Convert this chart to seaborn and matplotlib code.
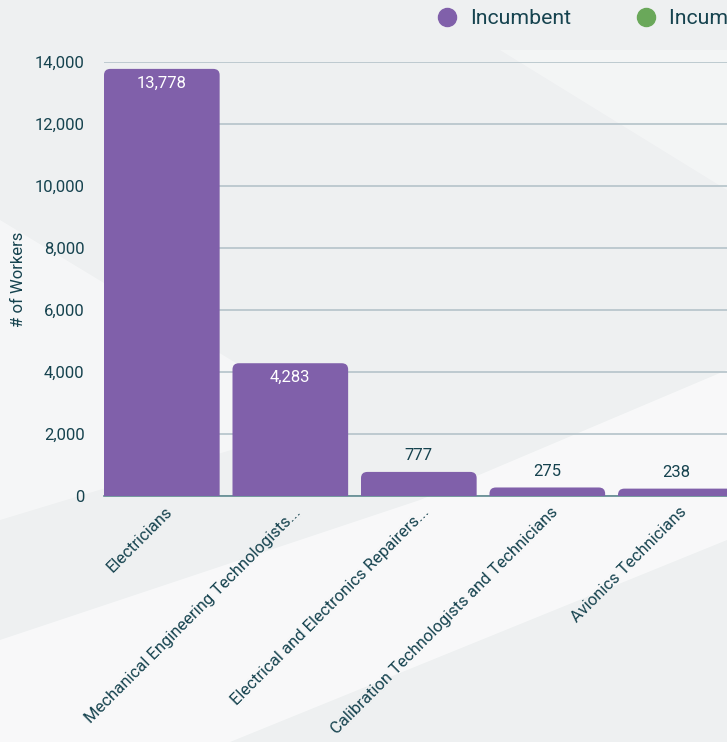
import matplotlib
matplotlib.use("Agg")
import matplotlib.pyplot as plt
import matplotlib.transforms as mtransforms
from matplotlib.patches import FancyBboxPatch, Polygon
from matplotlib.lines import Line2D
from matplotlib.ticker import FuncFormatter
import seaborn as sns
import pandas as pd

# data
occupations = [
    "Electricians",
    "Mechanical Engineering Technologists...",
    "Electrical and Electronics Repairers...",
    "Calibration Technologists and Technicians",
    "Avionics Technicians",
]
workers = [13778, 4283, 777, 275, 238]
legend_labels = ["Incumbent", "Incumbent Projected"]

PURPLE = "#8060aa"
GREEN = "#6aa85a"
TEXT = "#16434f"

sns.set_theme(style="white")
plt.rcParams["font.family"] = ["Roboto", "DejaVu Sans"]

df = pd.DataFrame({"Occupation": occupations, "Workers": workers})

fig = plt.figure(figsize=(7.27, 7.42), dpi=100)
fig.patch.set_facecolor("#eef0f1")

# soft light shapes in the background, on their own axes behind the chart (pixel coords)
bg = fig.add_axes([0, 0, 1, 1], zorder=-1)
bg.set_xlim(0, 727)
bg.set_ylim(742, 0)
bg.axis("off")
bg.add_patch(Polygon([(0, 220), (330, 420), (0, 520)], facecolor="white", alpha=0.45, lw=0))
bg.add_patch(Polygon([(0, 640), (420, 500), (727, 370), (727, 540), (230, 742), (0, 742)],
                     facecolor="white", alpha=0.6, lw=0))
bg.add_patch(Polygon([(500, 50), (727, 50), (727, 190)], facecolor="white", alpha=0.35, lw=0))

ax = fig.add_axes([104 / 727, 1 - 496 / 742, 642.5 / 727, 434 / 742], zorder=1)
ax.set_facecolor("none")

sns.barplot(data=df, x="Occupation", y="Workers", color=PURPLE, width=0.9,
            saturation=1, ax=ax, zorder=3)

ax.set_xlim(-0.45, len(occupations) - 0.45)
ax.set_ylim(0, 14000)
ax.set_yticks(range(0, 14001, 2000))
ax.yaxis.set_major_formatter(FuncFormatter(lambda v, p: f"{int(v):,}"))

# rounded tops: swap seaborn's rectangles for rounded patches of same size
rx = 0.05
ry = 200
for bar in list(ax.patches):
    x0, w, h = bar.get_x(), bar.get_width(), bar.get_height()
    bar.set_visible(False)
    rb = FancyBboxPatch((x0, -ry * 2), w, h + ry * 2,
                        boxstyle=f"round,pad=0,rounding_size={rx}",
                        mutation_aspect=ry / rx, facecolor=PURPLE, edgecolor="none",
                        zorder=3, clip_on=True)
    ax.add_patch(rb)
    cx = x0 + w / 2
    if h > 3000:
        ax.text(cx, h - 450, f"{int(h):,}", ha="center", va="center",
                color="white", fontsize=12, zorder=4)
    else:
        ax.text(cx, h + 520, f"{int(h):,}", ha="center", va="center",
                color=TEXT, fontsize=12, zorder=4)

ax.grid(axis="y", color="#b9c7cd", lw=1.3, zorder=0)
ax.grid(axis="x", visible=False)
for s in ["top", "right", "left"]:
    ax.spines[s].set_visible(False)
ax.spines["bottom"].set_color("#5f8a90")
ax.spines["bottom"].set_linewidth(1.2)
ax.spines["bottom"].set_zorder(2)

ax.tick_params(axis="y", length=0, pad=14, labelsize=12, labelcolor=TEXT)
ax.tick_params(axis="x", length=0, pad=6, labelsize=12, labelcolor=TEXT)
offset = mtransforms.ScaledTranslation(3 / 100, 0, fig.dpi_scale_trans)
for lab in ax.get_xticklabels():
    lab.set_rotation(45)
    lab.set_ha("right")
    lab.set_rotation_mode("anchor")
    lab.set_transform(lab.get_transform() + offset)

ax.set_xlabel("")
ax.set_ylabel("# of Workers", fontsize=12, color=TEXT)
ax.yaxis.set_label_coords((26 - 104) / 642.5, 0.5)

handles = [Line2D([], [], marker="o", ls="", markersize=13, color=c) for c in [PURPLE, GREEN]]
fig.legend(handles, legend_labels, loc="center left", bbox_to_anchor=(417 / 727, 1 - 19 / 742),
           ncol=2, frameon=False, fontsize=15.3, labelcolor=TEXT, handletextpad=0.6,
           columnspacing=3.0, handlelength=1.0)

fig.savefig("out.png", dpi=100, facecolor=fig.get_facecolor())
